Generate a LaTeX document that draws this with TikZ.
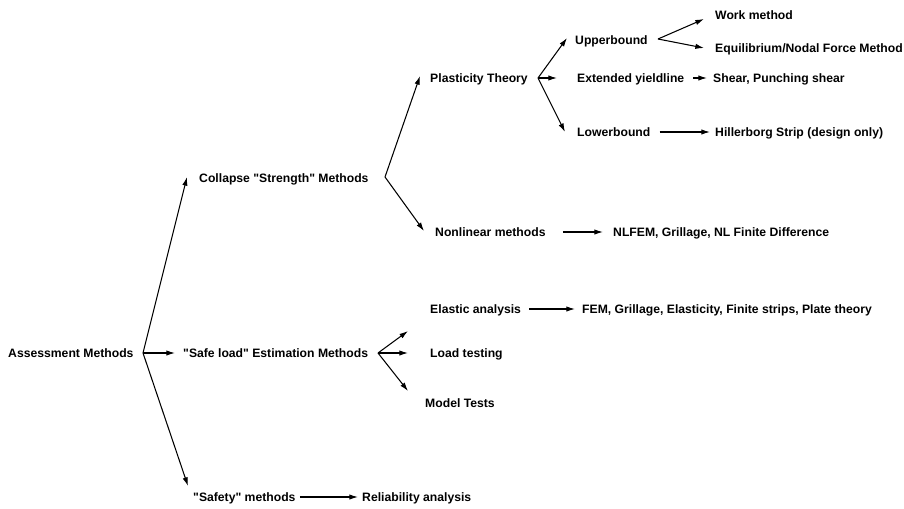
\documentclass[tikz,border=0pt]{standalone}
\usepackage{fontspec}
\setmainfont{Liberation Sans}[Ligatures=TeXOff]
\usetikzlibrary{arrows.meta,calc}
\tikzset{
  am/label/.style={
    anchor=west,
    inner sep=0pt,
    text height=7.6pt,
    text depth=0pt,
    font=\fontsize{10.4}{12.5}\selectfont\bfseries
  },
  am/arrow/.style={-{Latex[length=2.6mm,width=1.6mm]}, line width=0.9pt, draw=black}
}

\begin{document}
\begin{tikzpicture}[x=0.03cm,y=-0.03cm]
  \useasboundingbox (0,0) rectangle (904,508);
  % left column
  \node[am/label] (am) at (8,353) {Assessment Methods};
  \node[am/label] (cs) at (199,178) {Collapse "Strength" Methods};
  \node[am/label] (sl) at (183,353) {"Safe load" Estimation Methods};
  \node[am/label] (sf) at (193,497) {"Safety" methods};
  \node[am/label] (ra) at (362,497) {Reliability analysis};
  % collapse branch
  \node[am/label] (pt) at (430,78) {Plasticity Theory};
  \node[am/label] (nl) at (435,232) {Nonlinear methods};
  \node[am/label] (nlr) at (613,232) {NLFEM, Grillage, NL Finite Difference};
  \node[am/label] (ub) at (575,40) {Upperbound};
  \node[am/label] (wm) at (715,15) {Work method};
  \node[am/label] (eq) at (715,48) {Equilibrium/Nodal Force Method};
  \node[am/label] (ey) at (577,78) {Extended yieldline};
  \node[am/label] (sh) at (713,78) {Shear, Punching shear};
  \node[am/label] (lb) at (577,132) {Lowerbound};
  \node[am/label] (hs) at (715,132) {Hillerborg Strip (design only)};
  % safe load branch
  \node[am/label] (ea) at (430,309) {Elastic analysis};
  \node[am/label] (fem) at (582,309) {FEM, Grillage, Elasticity, Finite strips, Plate theory};
  \node[am/label] (lt) at (430,353) {Load testing};
  \node[am/label] (mt) at (425,403) {Model Tests};

  % fork points
  \coordinate (amfork) at (143,353);
  \coordinate (csfork) at (385,177);
  \coordinate (ptfork) at (538,78);
  \coordinate (ubfork) at (658,39);
  \coordinate (slfork) at (378,353);

  \draw[am/arrow] (amfork) -- ($(cs.west)+(-12,-1)$);
  \draw[am/arrow] (amfork) -- ($(sl.west)+(-8,0)$);
  \draw[am/arrow] (amfork) -- ($(sf.west)+(-5,-11)$);
  \draw[am/arrow] (csfork) -- ($(pt.west)+(-10,-2)$);
  \draw[am/arrow] (csfork) -- ($(nl.west)+(-11,-1)$);
  \draw[am/arrow] (ptfork) -- ($(ub.west)+(-8,-2)$);
  \draw[am/arrow] (ptfork) -- ($(ey.west)+(-20,0)$);
  \draw[am/arrow] (ptfork) -- ($(lb.west)+(-12,0)$);
  \draw[am/arrow] (ubfork) -- ($(wm.west)+(-11,4)$);
  \draw[am/arrow] (ubfork) -- ($(eq.west)+(-11,0)$);
  \draw[am/arrow] (slfork) -- ($(ea.west)+(-22,22)$);
  \draw[am/arrow] (slfork) -- ($(lt.west)+(-22,0)$);
  \draw[am/arrow] (slfork) -- ($(mt.west)+(-17,-12)$);
  % plain links
  \draw[am/arrow] ($(sf.east)+(4,0)$) -- ($(ra.west)+(-4,0)$);
  \draw[am/arrow] ($(nl.east)+(17,0)$) -- ($(nlr.west)+(-10,0)$);
  \draw[am/arrow] ($(ey.east)+(9,0)$) -- ($(sh.west)+(-6,0)$);
  \draw[am/arrow] ($(lb.east)+(9,0)$) -- ($(hs.west)+(-5,0)$);
  \draw[am/arrow] ($(ea.east)+(8,0)$) -- ($(fem.west)+(-7,0)$);
\end{tikzpicture}
\end{document}
